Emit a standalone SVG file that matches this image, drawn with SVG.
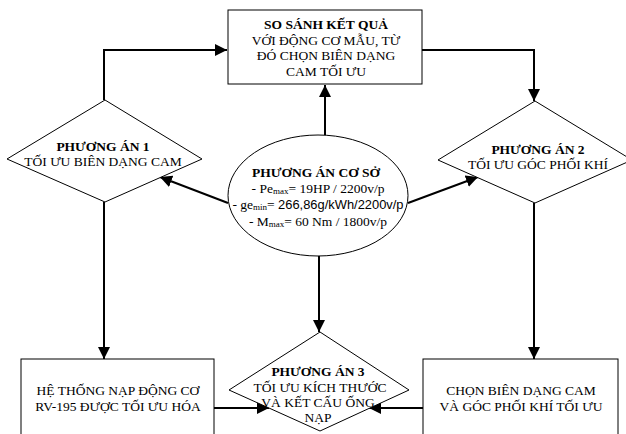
<svg xmlns="http://www.w3.org/2000/svg" width="626" height="434" viewBox="0 0 626 434">
<style>
.shape{fill:#fff;stroke:#000;stroke-width:1}
.t{font-family:"Liberation Serif","Times New Roman",serif;font-size:13.5px;fill:#000;text-anchor:middle}
.b{font-weight:bold}
.sub{font-size:9px}
.sans{font-family:"Liberation Sans",Arial,sans-serif;font-size:12.9px}
.conn{fill:none;stroke:#000;stroke-width:2}
</style>
<defs>
<marker id="arr" markerUnits="userSpaceOnUse" markerWidth="13" markerHeight="13" refX="12" refY="6" orient="auto">
<path d="M0,0 L12,6 L0,12 z" fill="#000"/>
</marker>
</defs>
<rect width="626" height="434" fill="#fff"/>
<g id="connectors">
<polyline class="conn" points="104,100 104,50 227,50" marker-end="url(#arr)"/>
<polyline class="conn" points="422,50 534,50 534,101" marker-end="url(#arr)"/>
<line class="conn" x1="325" y1="135" x2="325" y2="85" marker-end="url(#arr)"/>
<line class="conn" x1="228" y1="203" x2="160" y2="177" marker-end="url(#arr)"/>
<line class="conn" x1="408" y1="203" x2="478" y2="177" marker-end="url(#arr)"/>
<line class="conn" x1="319" y1="256" x2="319" y2="332" marker-end="url(#arr)"/>
<line class="conn" x1="104" y1="202" x2="104" y2="359" marker-end="url(#arr)"/>
<line class="conn" x1="534" y1="203" x2="534" y2="359" marker-end="url(#arr)"/>
<line class="conn" x1="214" y1="408" x2="269" y2="408" marker-end="url(#arr)"/>
<line class="conn" x1="423" y1="408" x2="369" y2="408" marker-end="url(#arr)"/>
</g>
<g id="top-box">
<rect class="shape" x="228" y="10" width="194" height="74"/>
<text class="t b" x="326" y="29">SO SÁNH KẾT QUẢ</text>
<text class="t" x="326" y="44.5">VỚI ĐỘNG CƠ MẪU, TỪ</text>
<text class="t" x="326" y="60">ĐÓ CHỌN BIÊN DẠNG</text>
<text class="t" x="326" y="75.5">CAM TỐI ƯU</text>
</g>
<g id="option1">
<polygon class="shape" points="105,100 202,159 105,202 7,159"/>
<text class="t b" x="103" y="150.5">PHƯƠNG ÁN 1</text>
<text class="t" x="103" y="166">TỐI ƯU BIÊN DẠNG CAM</text>
</g>
<g id="option2">
<polygon class="shape" points="535,101 632,160 535,203 438,160"/>
<text class="t b" x="538" y="154">PHƯƠNG ÁN 2</text>
<text class="t" x="538" y="168.5">TỐI ƯU GÓC PHỐI KHÍ</text>
</g>
<g id="base">
<ellipse class="shape" cx="318" cy="195.5" rx="90" ry="60.5"/>
<text class="t b" x="316" y="177.3">PHƯƠNG ÁN CƠ SỞ</text>
<text class="t" x="318" y="193.3">- Pe<tspan class="sub" dy="1">max</tspan><tspan dy="-1">= 19HP / 2200v/p</tspan></text>
<text class="t" x="318" y="209.3">- ge<tspan class="sub" dy="1">min</tspan><tspan dy="-1">= </tspan><tspan class="sans">266,86g/kWh/2200v/p</tspan></text>
<text class="t" x="318" y="226">- M<tspan class="sub" dy="1">max</tspan><tspan dy="-1">= 60 Nm / 1800v/p</tspan></text>
</g>
<g id="option3">
<polygon class="shape" points="320,332 409,390 320,431 229,390"/>
<text class="t b" x="318" y="376">PHƯƠNG ÁN 3</text>
<text class="t" x="320" y="392.3">TỐI ƯU KÍCH THƯỚC</text>
<text class="t" x="318" y="407.3">VÀ KẾT CẤU ỐNG</text>
<text class="t" x="318" y="422.3">NẠP</text>
</g>
<g id="result-left">
<rect class="shape" x="21" y="359" width="193" height="90"/>
<text class="t" x="118" y="394.7">HỆ THỐNG NẠP ĐỘNG CƠ</text>
<text class="t" x="118" y="411.3">RV-195 ĐƯỢC TỐI ƯU HÓA</text>
</g>
<g id="result-right">
<rect class="shape" x="423" y="359" width="195" height="90"/>
<text class="t" x="521" y="394.7">CHỌN BIÊN DẠNG CAM</text>
<text class="t" x="521" y="411.3">VÀ GÓC PHỐI KHÍ TỐI ƯU</text>
</g>
</svg>
